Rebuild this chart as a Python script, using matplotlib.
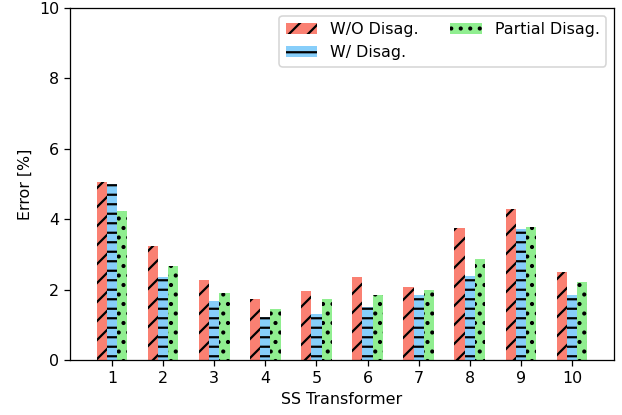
import matplotlib
matplotlib.use("Agg")
import matplotlib.pyplot as plt
import numpy as np

transformers = [1, 2, 3, 4, 5, 6, 7, 8, 9, 10]
wo_disag = [5.06, 3.24, 2.27, 1.73, 1.96, 2.36, 2.07, 3.75, 4.29, 2.50]
w_disag = [5.00, 2.36, 1.68, 1.22, 1.31, 1.50, 1.85, 2.39, 3.72, 1.85]
partial_disag = [4.23, 2.67, 1.90, 1.45, 1.73, 1.85, 1.99, 2.87, 3.78, 2.22]
labels = ["W/O Disag.", "W/ Disag.", "Partial Disag."]

plt.rcParams["hatch.linewidth"] = 1.4

DPI = 114
fig = plt.figure(figsize=(622 / DPI, 415 / DPI), dpi=DPI)
ax = fig.add_axes([70 / 622, 55 / 415, 544 / 622, 352 / 415])

x = np.array(transformers, dtype=float)
w = 0.2
ax.bar(x - w, wo_disag, w, color="#FA8072", hatch="//", edgecolor="black", linewidth=0, label=labels[0])
ax.bar(x, w_disag, w, color="#87CEFA", hatch="--", edgecolor="black", linewidth=0, label=labels[1])
ax.bar(x + w, partial_disag, w, color="#90EE90", hatch="..", edgecolor="black", linewidth=0, label=labels[2])

ax.set_xticks(transformers)
ax.set_xlim(0.18, 10.82)
ax.set_ylim(0, 10)
ax.set_yticks([0, 2, 4, 6, 8, 10])
ax.set_xlabel("SS Transformer")
ax.set_ylabel("Error [%]")
ax.legend(loc="upper right", ncol=2)

fig.savefig("out.png", dpi=DPI)
